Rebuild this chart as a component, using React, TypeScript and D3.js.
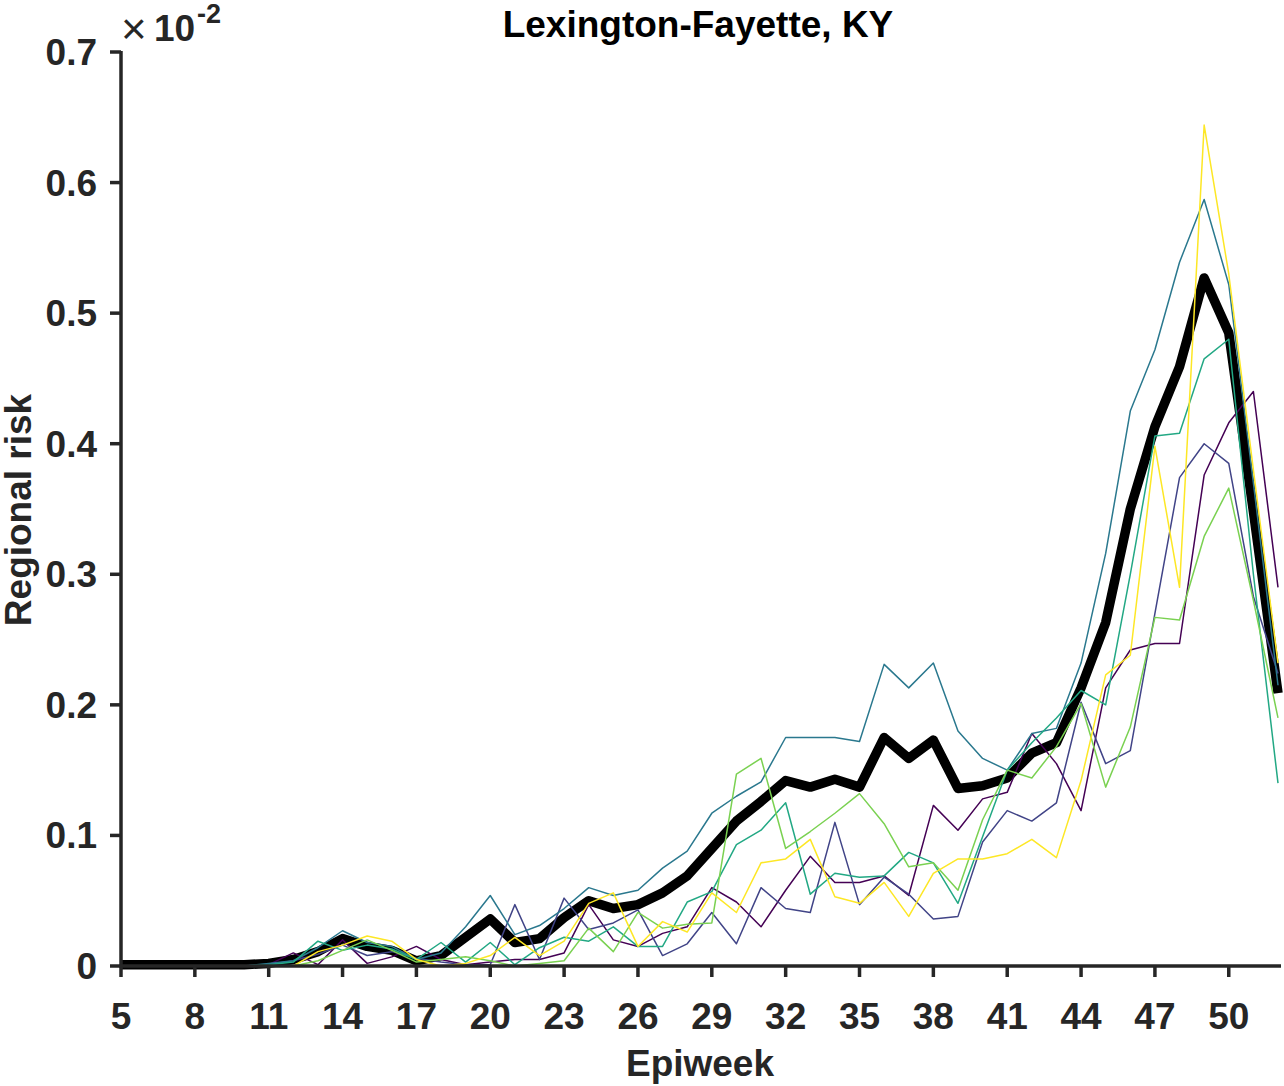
import React from "react";
import * as d3 from "d3";

const weeks = [5, 6, 7, 8, 9, 10, 11, 12, 13, 14, 15, 16, 17, 18, 19, 20, 21, 22, 23, 24, 25, 26, 27, 28, 29, 30, 31, 32, 33, 34, 35, 36, 37, 38, 39, 40, 41, 42, 43, 44, 45, 46, 47, 48, 49, 50, 51, 52];

const meanRisk = [0.001, 0.001, 0.001, 0.001, 0.001, 0.001, 0.002, 0.005, 0.011, 0.021, 0.015, 0.012, 0.004, 0.008, 0.022, 0.036, 0.018, 0.021, 0.037, 0.05, 0.044, 0.047, 0.056, 0.069, 0.09, 0.111, 0.126, 0.142, 0.137, 0.143, 0.137, 0.175, 0.159, 0.173, 0.136, 0.138, 0.144, 0.163, 0.171, 0.213, 0.263, 0.35, 0.413, 0.459, 0.527, 0.485, 0.348, 0.209];

const run1 = [0, 0, 0, 0, 0, 0, 0.001, 0.01, 0.001, 0.02, 0.002, 0.007, 0.015, 0.005, 0.001, 0.003, 0.005, 0.005, 0.01, 0.047, 0.02, 0.015, 0.025, 0.03, 0.06, 0.049, 0.03, 0.058, 0.084, 0.064, 0.064, 0.069, 0.054, 0.123, 0.104, 0.128, 0.133, 0.178, 0.155, 0.119, 0.213, 0.242, 0.247, 0.247, 0.376, 0.416, 0.44, 0.29];
const run2 = [0, 0, 0, 0, 0, 0, 0.001, 0.004, 0.009, 0.016, 0.008, 0.011, 0.006, 0.003, 0.001, 0.001, 0.047, 0.005, 0.052, 0.028, 0.033, 0.043, 0.008, 0.017, 0.041, 0.017, 0.06, 0.044, 0.041, 0.11, 0.047, 0.068, 0.055, 0.036, 0.038, 0.095, 0.119, 0.111, 0.125, 0.202, 0.155, 0.165, 0.27, 0.374, 0.4, 0.385, 0.283, 0.224];
const run3 = [0, 0, 0, 0, 0, 0, 0.002, 0.004, 0.014, 0.027, 0.018, 0.015, 0.005, 0.01, 0.03, 0.054, 0.024, 0.031, 0.044, 0.06, 0.054, 0.058, 0.075, 0.088, 0.117, 0.13, 0.141, 0.175, 0.175, 0.175, 0.172, 0.231, 0.213, 0.232, 0.18, 0.159, 0.15, 0.178, 0.182, 0.232, 0.316, 0.425, 0.472, 0.539, 0.587, 0.522, 0.37, 0.215];
const run4 = [0, 0, 0, 0, 0, 0, 0.001, 0.003, 0.019, 0.012, 0.016, 0.013, 0.005, 0.018, 0.003, 0.018, 0.001, 0.014, 0.022, 0.019, 0.03, 0.015, 0.015, 0.049, 0.057, 0.093, 0.104, 0.125, 0.055, 0.071, 0.068, 0.069, 0.087, 0.079, 0.048, 0.099, 0.15, 0.171, 0.19, 0.211, 0.2, 0.3, 0.406, 0.408, 0.465, 0.48, 0.3, 0.14];
const run5 = [0, 0, 0, 0, 0, 0, 0, 0, 0.004, 0.012, 0.02, 0.012, 0.003, 0.005, 0.007, 0.004, 0, 0.002, 0.004, 0.029, 0.011, 0.041, 0.029, 0.032, 0.033, 0.147, 0.159, 0.09, 0.103, 0.117, 0.132, 0.109, 0.076, 0.079, 0.058, 0.112, 0.15, 0.144, 0.168, 0.201, 0.137, 0.183, 0.267, 0.265, 0.329, 0.366, 0.28, 0.19];
const run6 = [0, 0, 0, 0, 0, 0, 0, 0, 0.011, 0.016, 0.023, 0.019, 0.005, 0, 0.002, 0.008, 0.022, 0.008, 0.019, 0.048, 0.056, 0.015, 0.034, 0.026, 0.056, 0.041, 0.079, 0.082, 0.097, 0.053, 0.048, 0.064, 0.038, 0.071, 0.082, 0.082, 0.086, 0.097, 0.083, 0.142, 0.223, 0.238, 0.398, 0.29, 0.644, 0.53, 0.38, 0.232];

const runs = [run1, run2, run3, run4, run5, run6];
const runColors = ["#440154", "#414487", "#2a788e", "#22a884", "#7ad151", "#fde725"];

const xTicks = [5, 8, 11, 14, 17, 20, 23, 26, 29, 32, 35, 38, 41, 44, 47, 50];
const yTicks = [0, 0.1, 0.2, 0.3, 0.4, 0.5, 0.6, 0.7];

const title = "Lexington-Fayette, KY";
const xLabel = "Epiweek";
const yLabel = "Regional risk";

const W = 1284;
const H = 1086;
const left = 121;
const right = 1278;
const top = 52;
const bottom = 966;
const axisColor = "#262626";
const font = "'Liberation Sans', Arial, Helvetica, sans-serif";
const fs = 37;

export default function App() {
  const x = d3.scaleLinear().domain([5, 52]).range([left, right]);
  const y = d3.scaleLinear().domain([0, 0.7]).range([bottom, top]);
  const line = d3
    .line<number>()
    .x((_, i) => x(weeks[i]))
    .y((d) => y(d));

  return (
    <svg
      width={W}
      height={H}
      style={{ position: "absolute", left: 0, top: 0, background: "#fff" }}
      fontFamily={font}
    >
      <rect x={0} y={0} width={W} height={H} fill="#fff" />
      <path d={line(meanRisk) || ""} fill="none" stroke="#000" strokeWidth={9.5} strokeLinejoin="round" strokeLinecap="butt" />
      {runs.map((r, k) => (
        <path key={k} d={line(r) || ""} fill="none" stroke={runColors[k]} strokeWidth={1.5} strokeLinejoin="round" />
      ))}

      {/* axes */}
      <line x1={left} x2={left} y1={top - 1} y2={bottom + 1.5} stroke={axisColor} strokeWidth={3.5} />
      <line x1={left - 1.5} x2={1281} y1={bottom} y2={bottom} stroke={axisColor} strokeWidth={3.5} />
      {xTicks.map((t) => (
        <g key={t}>
          <line x1={x(t)} x2={x(t)} y1={bottom} y2={bottom + 11} stroke={axisColor} strokeWidth={3.5} />
          <text x={x(t)} y={1029} textAnchor="middle" fontSize={fs} fontWeight="bold" fill={axisColor}>
            {t}
          </text>
        </g>
      ))}
      {yTicks.map((t) => (
        <g key={t}>
          <line x1={left - 11} x2={left} y1={y(t)} y2={y(t)} stroke={axisColor} strokeWidth={3.5} />
          <text x={97} y={y(t) + 13} textAnchor="end" fontSize={fs} fontWeight="bold" fill={axisColor}>
            {t === 0 ? "0" : t.toFixed(1)}
          </text>
        </g>
      ))}

      {/* exponent */}
      <text x={121} y={44} fontSize={44} fill={axisColor}>
        ×
      </text>
      <text x={154} y={41} fontSize={fs} fontWeight="bold" fill={axisColor}>
        10
      </text>
      <text x={197} y={23} fontSize={27} fontWeight="bold" fill={axisColor}>
        -2
      </text>

      <text x={698} y={37} textAnchor="middle" fontSize={37} fontWeight="bold" fill="#000">
        {title}
      </text>
      <text x={700} y={1076} textAnchor="middle" fontSize={fs} fontWeight="bold" fill={axisColor}>
        {xLabel}
      </text>
      <text
        transform={`translate(31, 510) rotate(-90)`}
        textAnchor="middle"
        fontSize={fs}
        fontWeight="bold"
        fill={axisColor}
      >
        {yLabel}
      </text>
    </svg>
  );
}
